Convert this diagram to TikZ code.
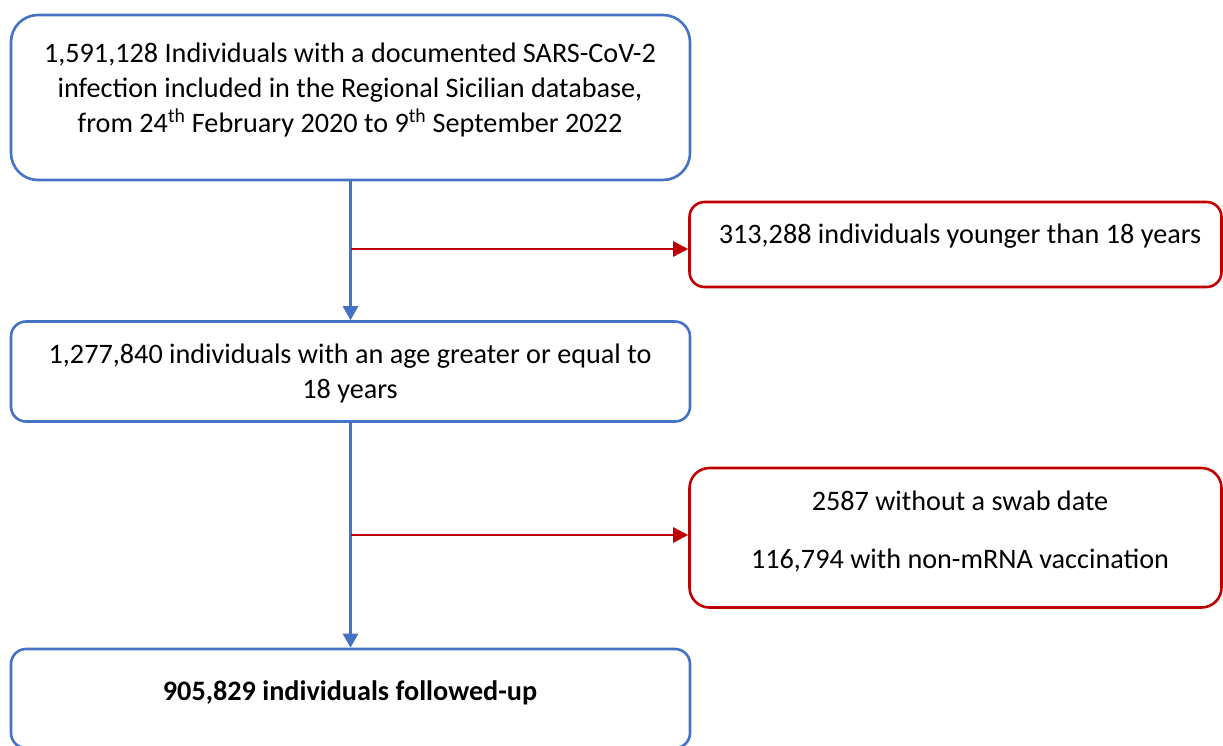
\documentclass[tikz,border=0pt]{standalone}
\usepackage{fontspec}
\setmainfont{Carlito}
\usetikzlibrary{arrows.meta}
\definecolor{boxblue}{HTML}{4472C4}
\definecolor{boxred}{HTML}{C00000}
\tikzset{
  bluebox/.style={draw=boxblue, line width=2.6pt, rectangle, fill=white},
  redbox/.style={draw=boxred, line width=2.6pt, rectangle, fill=white},
  txt/.style={font=\fontsize{28.2}{35}\selectfont, inner sep=0pt, align=center, text=black},
  bluearrow/.style={draw=boxblue, line width=2.6pt, -{Triangle[length=14pt,width=15pt]}},
  redarrow/.style={draw=boxred, line width=2.6pt, -{Triangle[length=15pt,width=15pt]}}
}
\begin{document}
\begin{tikzpicture}[x=1pt,y=-1pt]
\clip (0,0) rectangle (1223,745);
\fill[white] (0,0) rectangle (1223,745);
% boxes
\node[bluebox, rounded corners=27pt, minimum width=679pt, minimum height=165pt] (b1) at (350.5,97.5) {};
\node[redbox, rounded corners=15pt, minimum width=532pt, minimum height=85pt] (b2) at (955.5,244.5) {};
\node[bluebox, rounded corners=15pt, minimum width=679pt, minimum height=100pt] (b3) at (350.5,371.5) {};
\node[redbox, rounded corners=20pt, minimum width=532pt, minimum height=139.5pt] (b4) at (955.5,537.75) {};
\node[bluebox, rounded corners=15pt, minimum width=679pt, minimum height=99pt] (b5) at (350.5,698.5) {};
% texts
\node[txt, anchor=base] (t1) at (350,132) {1,591,128 Individuals with a documented SARS-CoV-2\\infection included in the Regional Sicilian database,\\from 24\textsuperscript{th} February 2020 to 9\textsuperscript{th} September 2022};
\node[txt, anchor=base] (t2) at (960,243) {313,288 individuals younger than 18 years};
\node[txt, anchor=base] (t3) at (350,398) {1,277,840 individuals with an age greater or equal to\\18 years};
\node[txt, anchor=base] (t4a) at (960,510) {2587 without a swab date};
\node[txt, anchor=base] (t4b) at (960,568) {116,794 with non-mRNA vaccination};
\node[txt, anchor=base, font=\fontsize{28.2}{35}\selectfont\bfseries] (t5) at (350,700) {905,829 individuals followed-up};
% connectors
\draw[bluearrow] (b1.south) -- (b3.north);
\draw[bluearrow] (b3.south) -- (b5.north);
\coordinate (j1) at (350.5,249);
\coordinate (j2) at (350.5,535);
\draw[redarrow] (j1) -- (j1 -| b2.west);
\draw[redarrow] (j2) -- (j2 -| b4.west);
\end{tikzpicture}
\end{document}
